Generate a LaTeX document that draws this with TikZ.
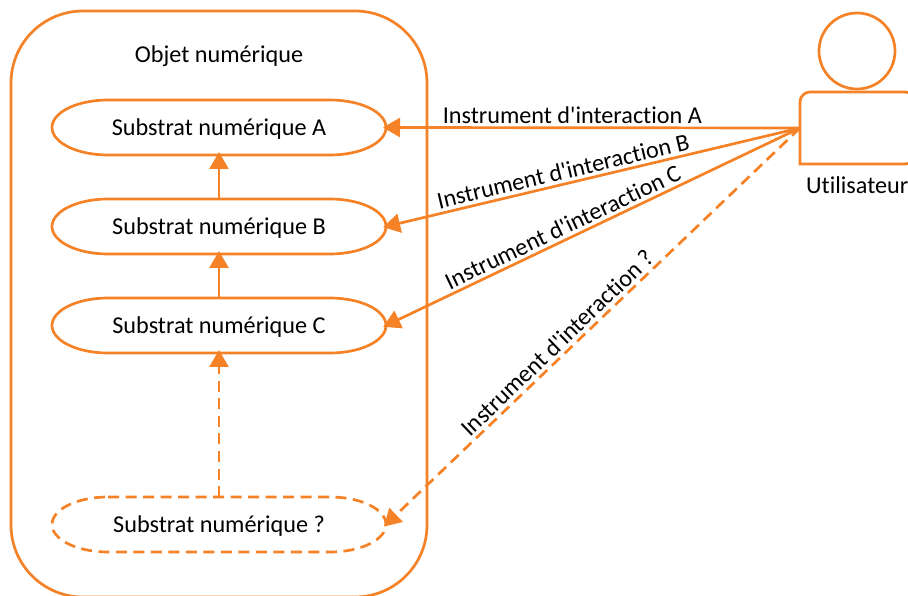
\documentclass[tikz,border=0pt]{standalone}
\usepackage{fontspec}
\newfontfamily\carlito[Ligatures=NoCommon]{Carlito}
\usetikzlibrary{positioning,arrows.meta}
\definecolor{trait}{HTML}{F58226}
\begin{document}
\begin{tikzpicture}[
    x=1pt, y=1pt,
    node distance=44pt,
    font=\carlito\fontsize{24.2}{28}\selectfont,
    lien/.style={draw=trait, line width=2.7pt},
    pointille/.style={dash pattern=on 11pt off 6.5pt},
    arrow/.style={lien, shorten >=-3pt, -{Triangle[length=17pt,width=19pt]}},
    substrat/.style={rectangle, minimum height=55pt, minimum width=334pt, inner sep=0pt, outer sep=0pt, align=center, text height=21.5pt, text depth=5pt},
    etiquette/.style={sloped, above, inner sep=3pt}
]
\useasboundingbox (0,0) rectangle (908,595);

\node[rectangle, lien, rounded corners=72pt, minimum width=416pt, minimum height=586pt, inner sep=0pt, outer sep=0pt] (objet) at (219,291) {};
\node[inner sep=0pt] (titre) at (219,539) {Objet numérique};

\node[substrat] (subA) at (219,467.5) {Substrat numérique A};
\node[substrat, below=of subA] (subB) {Substrat numérique B};
\node[substrat, below=of subB] (subC) {Substrat numérique C};
\node[substrat, below=144pt of subC] (subQ) {Substrat numérique ?};

% contours des substrats
\foreach \n/\opt in {subA/solid, subB/solid, subC/solid, subQ/pointille} {
    \draw[lien, \opt] ([xshift=56pt]\n.north west) -- ([xshift=-56pt]\n.north east)
        arc[start angle=90, end angle=-90, x radius=56pt, y radius=27.5pt]
        -- ([xshift=56pt]\n.south west)
        arc[start angle=270, end angle=90, x radius=56pt, y radius=27.5pt] -- cycle;
}

% utilisateur
\node[circle, lien, minimum size=76pt, inner sep=0pt] (tete) at (857,544) {};
\node[rectangle, minimum width=115pt, minimum height=72pt, inner sep=0pt, outer sep=0pt] (corps) at (857.5,467) {};
\draw[lien, rounded corners=10pt] (corps.south west) -- (corps.north west) -- (corps.north east) -- (corps.south east) [sharp corners] -- cycle;
\node[inner sep=0pt, anchor=north west] (user) at ([xshift=6pt,yshift=-12pt]corps.south west) {Utilisateur};

\draw[arrow] (subB) -- (subA);
\draw[arrow] (subC) -- (subB);
\draw[arrow, pointille] (subQ) -- (subC);

\draw[arrow] (corps.west) -- node[etiquette, pos=0.55] {Instrument d'interaction A} (subA.east);
\draw[arrow] (corps.west) -- node[etiquette, pos=0.565] {Instrument d'interaction B} (subB.east);
\draw[arrow] (corps.west) -- node[etiquette, pos=0.56] {Instrument d'interaction C} (subC.east);
\draw[arrow, pointille] (corps.west) -- node[etiquette, pos=0.565] {Instrument d'interaction ?} (subQ.east);

\end{tikzpicture}
\end{document}
